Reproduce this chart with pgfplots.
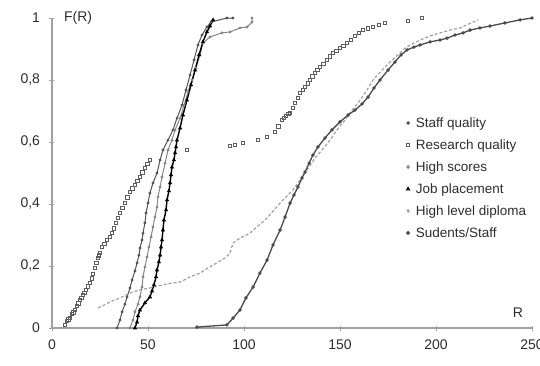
\documentclass[border=0pt]{standalone}
\usepackage{pgfplots}
\pgfplotsset{compat=1.18}
\usepackage{fontspec}
\setmainfont{Liberation Sans}
\definecolor{cstaff}{RGB}{85,85,85}
\definecolor{cres}{RGB}{95,95,95}
\definecolor{chigh}{RGB}{135,135,135}
\definecolor{cdip}{RGB}{160,160,160}
\definecolor{cstud}{RGB}{75,75,75}
\definecolor{caxis}{RGB}{160,160,160}
\definecolor{ctext}{RGB}{45,45,45}
\begin{document}
\begin{tikzpicture}
\begin{axis}[
  at={(0,0)}, anchor=south west,
  scale only axis, width=480pt, height=310pt,
  xmin=0, xmax=250, ymin=0, ymax=1,
  clip=false,
  axis x line=bottom, axis y line=left,
  axis line style={caxis, line width=1.2pt, -},
  xtick={0,50,100,150,200,250},
  ytick={0,0.2,0.4,0.6,0.8,1},
  yticklabels={0,{0,2},{0,4},{0,6},{0,8},1},
  tick align=center, major tick length=5pt,
  tick style={caxis, line width=0.8pt},
  /pgf/number format/assume math mode=true,
  ticklabel style={font=\fontsize{14}{16}\selectfont, text=ctext},
  xticklabel style={yshift=-6pt},
  yticklabel style={xshift=-6pt},
  legend style={at={(axis cs:182.3,0.693)}, anchor=north west, draw=none, fill=none,
    font=\fontsize{13.5}{15}\selectfont, text=ctext, row sep=6.7pt},
  legend cell align=left,
  legend image code/.code={\draw[#1, only marks, mark size=1.3pt] plot coordinates {(0.1cm,0cm)}; \path[draw=none, fill=none] (0cm,0cm) (0.3cm,0cm);},
]
% Staff quality
\addplot[cstaff, line width=1pt, mark=*, mark size=0.9pt] coordinates {
(33.9,0) (35.4,0.026) (36.5,0.052) (38.0,0.077) (39.1,0.100) (40.6,0.129) (41.7,0.155)
(43.2,0.184) (44.3,0.210) (45.3,0.235) (45.8,0.258) (46.9,0.284) (47.4,0.306) (48.4,0.339)
(49.0,0.371) (50.0,0.403) (51.0,0.435) (52.6,0.468) (54.7,0.500) (56.3,0.542) (57.8,0.574)
(60.4,0.606) (63.0,0.639) (65.1,0.677) (67.7,0.719) (69.8,0.768) (71.9,0.816) (74.0,0.865)
(76.0,0.913) (78.1,0.945) (80.7,0.971) (82.8,0.987) (91.1,1.0) (94.3,1.0)};
\addlegendentry{Staff quality}
% Research quality
\addplot[cres, only marks, mark=square, mark size=1.7pt, mark options={line width=0.7pt}] coordinates {
(6.8,0.010) (7.8,0.023) (8.5,0.028) (9.4,0.032) (10.4,0.045) (11.2,0.050) (12.0,0.058)
(13.0,0.071) (13.8,0.080) (14.6,0.090) (15.3,0.098) (16.1,0.106) (16.9,0.114) (17.7,0.123)
(18.7,0.134) (19.8,0.145) (20.6,0.160) (21.4,0.174) (22.4,0.194) (23.2,0.210) (24.0,0.226)
(24.5,0.234) (25.0,0.242) (26.0,0.261) (27.3,0.272) (28.6,0.284) (30.0,0.295) (31.3,0.306)
(32.3,0.322) (33.3,0.339) (34.4,0.355) (35.4,0.371) (36.7,0.387) (38.0,0.403) (39.3,0.421)
(40.6,0.439) (41.9,0.450) (43.2,0.461) (44.5,0.474) (45.8,0.487) (47.1,0.502) (48.4,0.516)
(49.7,0.529) (51.0,0.542) (70.3,0.574) (92.7,0.587) (95.3,0.590)
(99.5,0.597) (107.3,0.606) (112.0,0.616) (116.1,0.632) (117.9,0.650) (119.8,0.671)
(120.9,0.677) (121.9,0.684) (123.0,0.690) (124.0,0.694) (125.3,0.710) (126.6,0.726)
(127.9,0.742) (129.2,0.758) (130.5,0.768) (131.8,0.777) (133.1,0.789) (134.4,0.800)
(135.7,0.812) (137.0,0.823) (138.3,0.832) (139.6,0.842) (141.4,0.853) (143.2,0.865)
(144.8,0.876) (146.4,0.887) (148.2,0.895) (150.0,0.903) (151.8,0.911) (153.6,0.919)
(155.7,0.930) (157.8,0.942) (159.9,0.952) (162.0,0.961) (164.6,0.966) (167.2,0.971)
(170.3,0.978) (173.4,0.984) (185.4,0.990) (192.7,1.0)};
\addlegendentry{Research quality}
% High scores
\addplot[chigh, line width=1pt, mark=*, mark size=0.9pt] coordinates {
(40.6,0) (42.2,0.026) (43.2,0.052) (44.8,0.077) (45.8,0.100) (46.9,0.132) (47.4,0.165)
(48.4,0.197) (49.5,0.229) (50.5,0.261) (51.6,0.294) (52.6,0.326) (53.6,0.358) (54.7,0.390)
(55.2,0.423) (56.3,0.455) (57.3,0.487) (58.9,0.532) (60.4,0.574) (62.5,0.606) (64.1,0.639)
(66.7,0.677) (68.8,0.719) (70.8,0.761) (72.9,0.800) (75.0,0.839) (77.1,0.881) (78.6,0.919)
(82.3,0.939) (88.5,0.952) (92.7,0.955) (97.9,0.968) (101.6,0.971) (104.2,0.987) (104.2,1.0)};
\addlegendentry{High scores}
% Job placement
\addplot[black, line width=1.4pt, mark=triangle*, mark size=1.1pt] coordinates {
(43.2,0) (44.3,0.019) (44.8,0.039) (45.8,0.058) (48.4,0.081) (51.0,0.100) (52.1,0.119)
(53.1,0.139) (54.2,0.165) (54.7,0.187) (55.7,0.213) (56.3,0.235) (56.8,0.261) (57.3,0.284)
(57.8,0.316) (58.3,0.348) (59.4,0.381) (59.9,0.413) (60.9,0.442) (61.5,0.468) (62.0,0.494)
(62.5,0.519) (63.5,0.542) (64.1,0.565) (64.6,0.584) (65.1,0.606) (66.7,0.645) (68.2,0.687)
(70.3,0.735) (72.4,0.784) (74.5,0.832) (76.6,0.881) (78.6,0.923) (80.7,0.955) (82.3,0.974)
(83.9,0.994)};
\addlegendentry{Job placement}
% High level diploma
\addplot[cdip, line width=1.2pt, dash pattern=on 3pt off 2pt, mark=none,
  legend image code/.code={\fill[cdip] (0.1cm,0cm) circle (1.2pt); \path[draw=none, fill=none] (0cm,0cm) (0.3cm,0cm);}] coordinates {
(24.0,0.065) (27.1,0.074) (30.2,0.084) (35.4,0.097) (40.6,0.113) (45.8,0.123) (51.0,0.129)
(57.8,0.139) (62.5,0.145) (66.7,0.148) (71.9,0.165) (77.1,0.177) (81.3,0.194) (85.9,0.210)
(90.1,0.226) (92.7,0.242) (94.3,0.274) (97.9,0.290) (103.1,0.306) (107.3,0.329) (112.0,0.355)
(115.1,0.377) (118.8,0.403) (122.4,0.426) (125.5,0.445) (128.1,0.468) (130.7,0.494)
(133.9,0.519) (137.0,0.548) (140.6,0.574) (144.8,0.606) (148.4,0.639) (152.6,0.671)
(156.3,0.703) (160.4,0.735) (164.1,0.768) (167.2,0.800) (171.9,0.832) (176.0,0.858)
(180.2,0.881) (183.9,0.903) (187.5,0.916) (191.7,0.929) (196.9,0.942) (202.1,0.952)
(207.3,0.961) (212.5,0.968) (221.9,0.994)};
\addlegendentry{High level diploma}
% Students/Staff
\addplot[cstud, line width=1.3pt, mark=*, mark size=1pt] coordinates {
(75.5,0.003) (91.1,0.010) (94.3,0.032) (97.9,0.058) (101.0,0.097) (104.7,0.132) (108.3,0.177)
(112.0,0.219) (115.1,0.268) (118.8,0.316) (121.4,0.358) (124.0,0.403) (126.0,0.429)
(128.1,0.455) (130.2,0.484) (131.8,0.503) (133.9,0.532) (135.9,0.558) (138.5,0.584)
(142.2,0.613) (145.8,0.639) (150.0,0.665) (154.2,0.687) (157.8,0.703) (161.5,0.723)
(164.6,0.745) (167.7,0.774) (170.8,0.800) (175.0,0.832) (178.6,0.858) (181.8,0.881)
(184.9,0.897) (188.5,0.906) (191.7,0.913) (196.9,0.923) (202.1,0.929) (205.7,0.935)
(209.9,0.945) (214.1,0.952) (217.7,0.961) (222.9,0.968) (228.1,0.974) (235.9,0.984)
(243.8,0.994) (250.0,1.0)};
\addlegendentry{Sudents/Staff}
\node[anchor=west, font=\fontsize{14}{16}\selectfont, text=ctext] at (axis cs:4.5,1) {F(R)};
\node[font=\fontsize{14}{16}\selectfont, text=ctext] at (axis cs:242.7,0.05) {R};
\end{axis}
\pgfresetboundingbox
\path[use as bounding box] (-52pt,-37pt) rectangle (488pt,328pt);
\end{tikzpicture}
\end{document}
